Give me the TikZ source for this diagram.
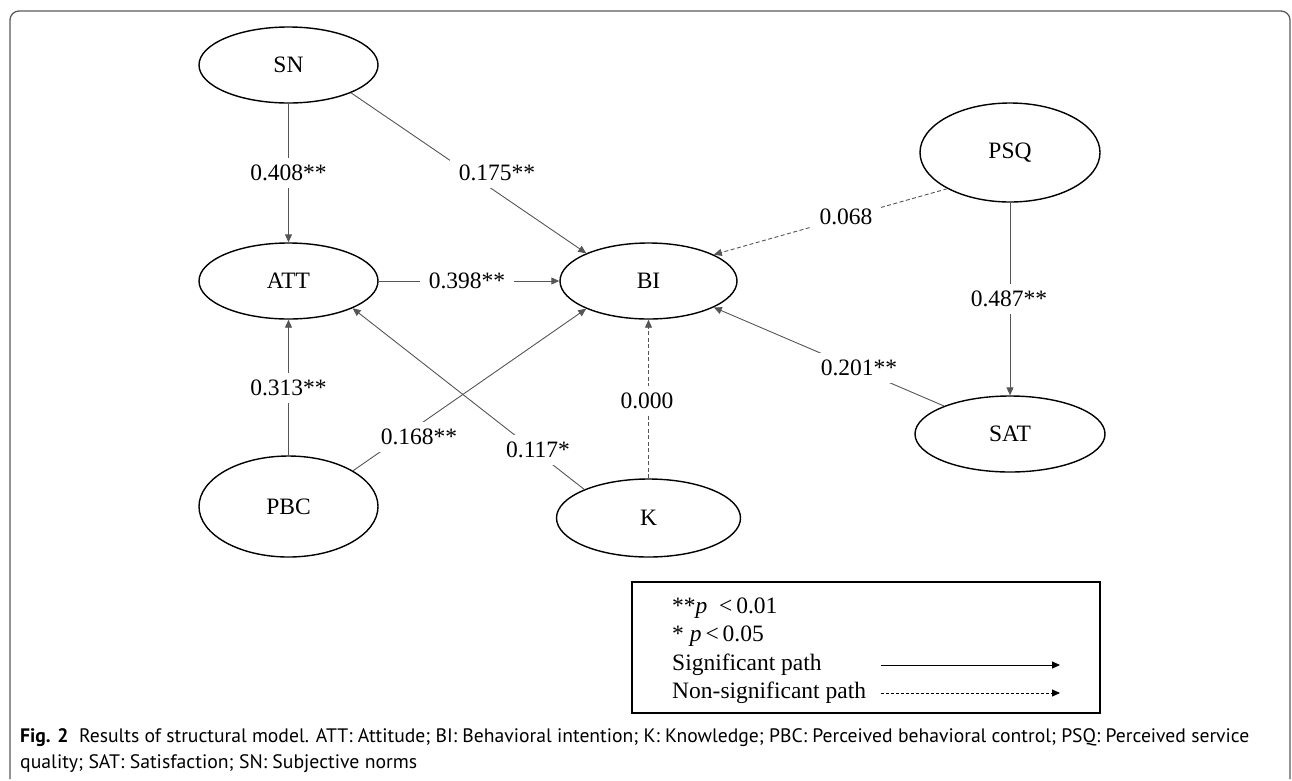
\documentclass[tikz,border=0pt]{standalone}
\usepackage{fontspec}
\setmainfont{Liberation Serif}
\newfontfamily\capfont{PT Sans}
\usetikzlibrary{arrows.meta,shapes.geometric}
\definecolor{edgegray}{HTML}{555555}
\definecolor{framegray}{HTML}{5A5A5A}
\tikzset{
  latent/.style={ellipse,draw=black,line width=1.4pt,inner sep=0pt,
    font=\fontsize{23.5}{28}\selectfont},
  sig/.style={draw=edgegray,line width=0.9pt,-{Triangle[length=8pt,width=7pt]}},
  nsig/.style={sig,dash pattern=on 4pt off 2.5pt},
  coef/.style={fill=white,inner xsep=9pt,inner ysep=7pt,font=\fontsize{23.5}{28}\selectfont},
  legtext/.style={anchor=base west,inner sep=0pt,font=\fontsize{23.5}{28}\selectfont},
  captext/.style={anchor=base west,inner sep=0pt,font=\capfont\fontsize{19.5}{24}\selectfont},
}
\begin{document}
\begin{tikzpicture}[x=1pt,y=-1pt]
\useasboundingbox (0,0) rectangle (1292,780);
% frame
\draw[framegray,line width=1.3pt,rounded corners=9pt] (10,779) -- (10,11) -- (1290,11) -- (1290,779);
% latent variables
\node[latent,minimum width=179pt,minimum height=76pt] (SN) at (288.5,65) {SN};
\node[latent,minimum width=179pt,minimum height=76pt] (ATT) at (288.5,281) {ATT};
\node[latent,minimum width=177pt,minimum height=76pt] (BI) at (648.5,281) {BI};
\node[latent,minimum width=180pt,minimum height=99pt] (PSQ) at (1010,152.5) {PSQ};
\node[latent,minimum width=190pt,minimum height=76pt] (SAT) at (1010,434) {SAT};
\node[latent,minimum width=179pt,minimum height=101pt] (PBC) at (288.5,506.5) {PBC};
\node[latent,minimum width=184pt,minimum height=78pt] (K) at (648.5,518) {K};
% paths
\draw[sig] (SN) -- (ATT);
\draw[sig] (SN.-24.5) -- (BI.156.4);
\draw[sig] (ATT) -- (BI);
\draw[nsig] (PSQ.-150.5) -- (BI.22.6);
\draw[sig] (PSQ) -- (SAT);
\draw[sig] (SAT.157.5) -- (BI.-22.6);
\draw[nsig] (K) -- (BI);
\draw[sig] (PBC) -- (ATT);
\draw[sig] (PBC.29.3) -- (BI.-156.1);
\draw[sig] (K.156.2) -- (ATT.-23.8);
% coefficients
\node[coef] (c1) at (288.5,173) {0.408**};
\node[coef] (c2) at (497,173) {0.175**};
\node[coef] (c3) at (467,281) {0.398**};
\node[coef] (c4) at (846,217) {0.068};
\node[coef] (c5) at (1009,299) {0.487**};
\node[coef] (c6) at (859,368) {0.201**};
\node[coef] (c7) at (647,401) {0.000};
\node[coef] (c8) at (288.5,388) {0.313**};
\node[coef] (c9) at (419,437) {0.168**};
\node[coef] (c10) at (538,450) {0.117*};
% legend
\node[draw=black,line width=1.2pt,minimum width=468pt,minimum height=131pt,inner sep=0pt] (leg) at (866,647.5) {};
\node[legtext] (t1) at (672,613) {**\textit{p}\ \ {<}\,0.01};
\node[legtext] (t2) at (672,641.5) {* \textit{p}\,{<}\,0.05};
\node[legtext] (t3) at (672,670) {Significant path};
\node[legtext] (t4) at (672,698.5) {Non-significant path};
\coordinate (a1) at (881,665);
\coordinate (a2) at (1060,665);
\coordinate (b1) at (881,693);
\coordinate (b2) at (1060,693);
\draw[sig,draw=black] (a1) -- (a2);
\draw[nsig,draw=black,dash pattern=on 3pt off 2pt] (b1) -- (b2);
% caption
\node[captext] (cap1) at (20,742.5) {\resizebox{1229pt}{\height}{\textbf{Fig. 2}\ \ Results of structural model. ATT: Attitude; BI: Behavioral intention; K: Knowledge; PBC: Perceived behavioral control; PSQ: Perceived service}};
\node[captext] (cap2) at (20,768) {\resizebox{397pt}{\height}{quality; SAT: Satisfaction; SN: Subjective norms}};
\end{tikzpicture}
\end{document}
